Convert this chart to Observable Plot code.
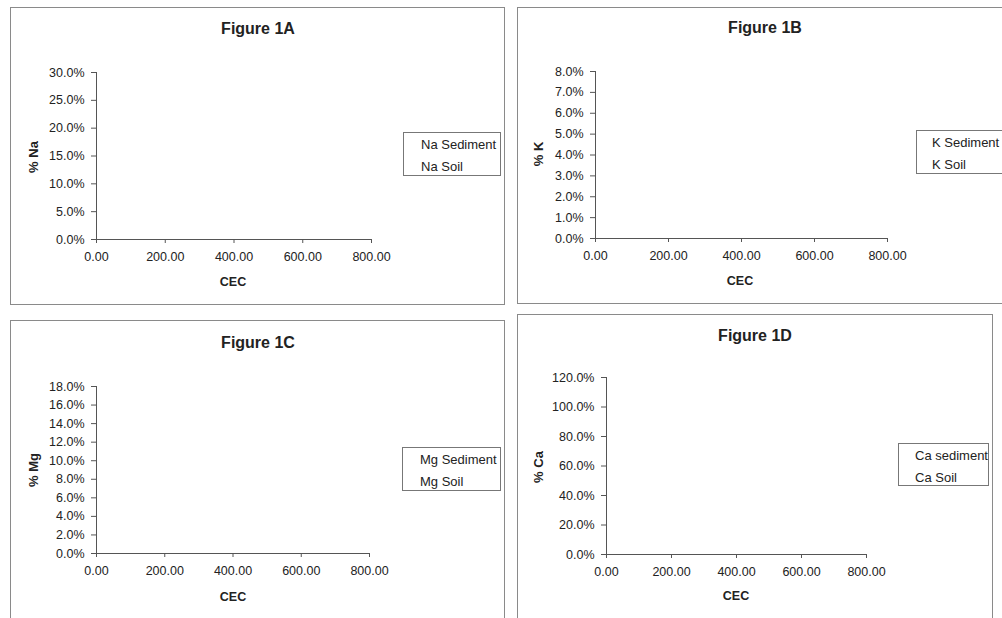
<!DOCTYPE html>
<html>
<head>
<meta charset="utf-8">
<script src="https://cdn.jsdelivr.net/npm/d3@7"></script>
<script src="https://cdn.jsdelivr.net/npm/@observablehq/plot@0.6"></script>
<style>
  html, body { margin: 0; padding: 0; background: #fff; }
  body { width: 1002px; height: 618px; position: relative; overflow: hidden; font-family: "Liberation Sans", Arial, sans-serif; color: #222; }
  .box { position: absolute; border: 1px solid #8a8a8a; box-sizing: border-box; }
  .abs { position: absolute; white-space: nowrap; }
  .title { font-weight: bold; font-size: 16px; transform: translate(-50%, -50%); }
  .xlab { font-weight: bold; font-size: 12.5px; transform: translate(-50%, -50%); }
  .ylab { font-weight: bold; font-size: 13px; transform: translate(-50%, -50%) rotate(-90deg); }
  .legend { position: absolute; border: 1px solid #777; background: #fff; box-sizing: border-box; font-size: 13px; }
  .legend div { position: absolute; white-space: nowrap; transform: translateY(-50%); }
  .plot { position: absolute; }
</style>
</head>
<body>
<script>
// ---- data ----
const panelTitles = ["Figure 1A", "Figure 1B", "Figure 1C", "Figure 1D"];
const xLabel = "CEC";
const yLabels = ["% Na", "% K", "% Mg", "% Ca"];
const xTicks = [0, 200, 400, 600, 800];
const yTicksNa = [0, 0.05, 0.10, 0.15, 0.20, 0.25, 0.30];
const yTicksK = [0, 0.01, 0.02, 0.03, 0.04, 0.05, 0.06, 0.07, 0.08];
const yTicksMg = [0, 0.02, 0.04, 0.06, 0.08, 0.10, 0.12, 0.14, 0.16, 0.18];
const yTicksCa = [0, 0.2, 0.4, 0.6, 0.8, 1.0, 1.2];
const legendNa = ["Na Sediment", "Na Soil"];
const legendK = ["K Sediment", "K Soil"];
const legendMg = ["Mg Sediment", "Mg Soil"];
const legendCa = ["Ca sediment", "Ca Soil"];
// no data points are visible in the figure
const naSediment = [], naSoil = [];
const kSediment = [], kSoil = [];
const mgSediment = [], mgSoil = [];
const caSediment = [], caSoil = [];

// ---- layout ----
const panels = [
  {title: panelTitles[0], ylab: yLabels[0], yTicks: yTicksNa, legend: legendNa, series: [naSediment, naSoil],
   box: [10, 7, 495, 298], m: [65, 134, 66, 86], titleXY: [258, 29], xlabXY: [233, 282], ylabXY: [33, 157],
   leg: [403, 132, 98, 44], legPad: 17},
  {title: panelTitles[1], ylab: yLabels[1], yTicks: yTicksK, legend: legendK, series: [kSediment, kSoil],
   box: [517, 7, 485, 297], m: [64, 115, 66, 78], titleXY: [765, 28], xlabXY: [740, 281], ylabXY: [538, 154],
   leg: [916, 130, 120, 44], legPad: 15, boxW: 520},
  {title: panelTitles[2], ylab: yLabels[2], yTicks: yTicksMg, legend: legendMg, series: [mgSediment, mgSoil],
   box: [10, 320, 495, 298], m: [66, 136, 65, 86], titleXY: [258, 343], xlabXY: [233, 597], ylabXY: [33, 470],
   leg: [402, 447, 99, 44], legPad: 17, boxH: 330},
  {title: panelTitles[3], ylab: yLabels[3], yTicks: yTicksCa, legend: legendCa, series: [caSediment, caSoil],
   box: [517, 314, 476, 304], m: [63, 127, 64, 89], titleXY: [755, 336], xlabXY: [736, 596], ylabXY: [538, 467],
   leg: [898, 443, 91, 43], legPad: 16, boxH: 330}
];

function addDiv(cls, text, x, y) {
  const d = document.createElement("div");
  d.className = "abs " + cls;
  d.textContent = text;
  d.style.left = x + "px";
  d.style.top = y + "px";
  document.body.appendChild(d);
  return d;
}

for (const p of panels) {
  const [bx, by, bw, bh] = p.box;
  const box = document.createElement("div");
  box.className = "box";
  box.style.left = bx + "px";
  box.style.top = by + "px";
  box.style.width = (p.boxW || bw) + "px";
  box.style.height = (p.boxH || bh) + "px";
  document.body.appendChild(box);

  const yMax = p.yTicks[p.yTicks.length - 1];
  const chart = Plot.plot({
    width: bw,
    height: bh,
    marginTop: p.m[0], marginRight: p.m[1], marginBottom: p.m[2], marginLeft: p.m[3],
    style: {fontFamily: "'Liberation Sans', Arial, sans-serif", fontSize: "12.5px", color: "#222", background: "transparent", overflow: "visible"},
    x: {domain: [0, 800], axis: null},
    y: {domain: [0, yMax], axis: null},
    marks: [
      Plot.ruleX([0], {y1: 0, y2: yMax, stroke: "#555"}),
      Plot.ruleY([0], {x1: 0, x2: 800, stroke: "#555"}),
      Plot.axisY(p.yTicks, {tickSize: 5, tickPadding: 7, tickFormat: d3.format(".1%"), fontSize: 12.5, stroke: "#555", label: null}),
      Plot.axisX(xTicks, {tickSize: 4, tickPadding: 9, tickFormat: d3.format(".2f"), fontSize: 12.5, stroke: "#555", label: null}),
      Plot.dot(p.series[0], {x: "cec", y: "pct", r: 2, fill: "#000080"}),
      Plot.dot(p.series[1], {x: "cec", y: "pct", r: 2, fill: "#ff00ff"})
    ]
  });
  chart.classList.add("plot");
  chart.style.left = bx + "px";
  chart.style.top = by + "px";
  document.body.appendChild(chart);

  addDiv("title", p.title, p.titleXY[0], p.titleXY[1]);
  addDiv("xlab", xLabel, p.xlabXY[0], p.xlabXY[1]);
  addDiv("ylab", p.ylab, p.ylabXY[0], p.ylabXY[1]);

  const [lx, ly, lw, lh] = p.leg;
  const leg = document.createElement("div");
  leg.className = "legend";
  leg.style.left = lx + "px";
  leg.style.top = ly + "px";
  leg.style.width = lw + "px";
  leg.style.height = lh + "px";
  p.legend.forEach((t, i) => {
    const e = document.createElement("div");
    e.textContent = t;
    e.style.left = p.legPad + "px";
    e.style.top = (11 + i * 22) + "px";
    leg.appendChild(e);
  });
  document.body.appendChild(leg);
}
</script>
</body>
</html>
